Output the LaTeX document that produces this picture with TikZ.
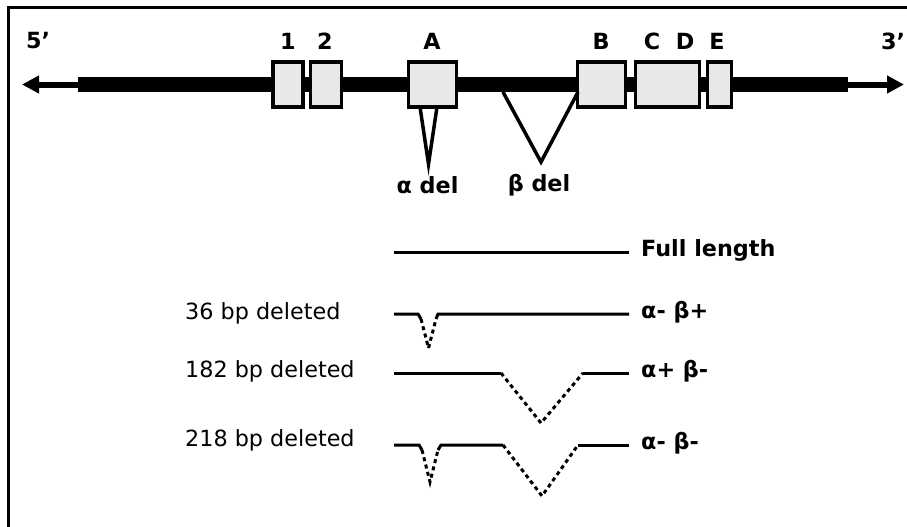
\documentclass[tikz,border=0pt]{standalone}
\usepackage{fontspec}
\setmainfont{DejaVu Sans}
\usetikzlibrary{arrows.meta}
\tikzset{
  exon/.style={draw=black, line width=3.5pt, fill=exgray, inner sep=0pt, minimum height=45pt},
  lab/.style={font=\fontsize{22.3}{24}\selectfont\bfseries, inner sep=0pt},
  side/.style={font=\fontsize{22.3}{24}\selectfont, inner sep=0pt, anchor=west},
  tline/.style={line width=3pt},
  dline/.style={line width=3pt, dash pattern=on 4pt off 3.5pt},
  del/.style={line width=3.5pt, line join=miter},
}
\definecolor{exgray}{HTML}{E8E8E8}
\begin{document}
\begin{tikzpicture}[x=1pt,y=-1pt]
\useasboundingbox (0,0) rectangle (907,527);
% frame (only left and top visible)
\draw[line width=2.5pt] (8.5,527) -- (8.5,7.5) -- (907,7.5);
% gene body
\coordinate (barL) at (78,84.5);
\coordinate (barR) at (848,84.5);
\coordinate (tipL) at (22,84.5);
\coordinate (tipR) at (904,84.5);
\draw[line width=15pt] (barL) -- (barR);
\draw[line width=6pt, -{Triangle[length=17pt,width=17pt]}] (barL) -- (tipL);
\draw[line width=6pt, -{Triangle[length=17pt,width=17pt]}] (barR) -- (tipR);
% exons
\node[exon, minimum width=30pt] (e1) at (288,84.5) {};
\node[exon, minimum width=31pt] (e2) at (326,84.5) {};
\node[exon, minimum width=48pt] (eA) at (432.5,84.5) {};
\node[exon, minimum width=48pt] (eB) at (601.5,84.5) {};
\node[exon, minimum width=64pt] (eCD) at (667.5,84.5) {};
\node[exon, minimum width=24pt] (eE) at (719.5,84.5) {};
% exon labels
\node[lab] (l5) at (38,41) {5’};
\node[lab] (l1) at (288,41) {1};
\node[lab] (l2) at (325,41) {2};
\node[lab] (lA) at (432,41) {A};
\node[lab] (lB) at (601,41) {B};
\node[lab] (lC) at (652,41) {C};
\node[lab] (lD) at (685,41) {D};
\node[lab] (lE) at (717,41) {E};
\node[lab] (l3) at (893,41) {3’};
% deletions
\coordinate (a1) at (420,107);
\coordinate (a2) at (437,107);
\coordinate (aP) at (428.5,164);
\draw[del] (a1) -- (aP) -- (a2);
\coordinate (b1) at (503,92);
\coordinate (b2) at (578,92);
\coordinate (bP) at (541,162);
\draw[del] (b1) -- (bP) -- (b2);
\node[lab] (adel) at (427.5,185) {α del};
\node[lab] (bdel) at (539,185) {β del};
% transcripts
\coordinate (fL) at (394,252);
\coordinate (fR) at (629,252);
\draw[tline] (fL) -- (fR);
\node[lab, anchor=west] (full) at (641,250) {Full length};
% alpha- beta+
\coordinate (t1a) at (394,314);
\coordinate (t1b) at (418,314);
\coordinate (t1c) at (421,319);
\coordinate (t1d) at (428.5,348);
\coordinate (t1e) at (436,319);
\coordinate (t1f) at (438,314);
\coordinate (t1g) at (629,314);
\draw[tline] (t1a) -- (t1b) -- (t1c);
\draw[dline] (t1c) -- (t1d) -- (t1e);
\draw[tline] (t1e) -- (t1f) -- (t1g);
\node[lab, anchor=west] (r1) at (641,312) {α- β+};
% alpha+ beta-
\coordinate (t2a) at (394,373);
\coordinate (t2b) at (501,373);
\coordinate (t2c) at (541,423);
\coordinate (t2d) at (583,373);
\coordinate (t2e) at (629,373);
\draw[tline] (t2a) -- (t2b);
\draw[dline] (t2b) -- (t2c) -- (t2d);
\draw[tline] (t2d) -- (t2e);
\node[lab, anchor=west] (r2) at (641,371) {α+ β-};
% alpha- beta-
\coordinate (t3a) at (394,445);
\coordinate (t3b) at (419,445);
\coordinate (t3c) at (422,450);
\coordinate (t3d) at (430,482);
\coordinate (t3e) at (438,450);
\coordinate (t3f) at (441,445);
\coordinate (t3g) at (503,445);
\coordinate (t3h) at (542,496);
\coordinate (t3i) at (578,445);
\coordinate (t3j) at (629,445);
\draw[tline] (t3a) -- (t3b) -- (t3c);
\draw[dline] (t3c) -- (t3d) -- (t3e);
\draw[tline] (t3e) -- (t3f) -- (t3g);
\draw[dline] (t3g) -- (t3h) -- (t3i);
\draw[tline] (t3i) -- (t3j);
\node[lab, anchor=west] (r3) at (641,443) {α- β-};
% left labels
\node[side] (s1) at (185,313) {36 bp deleted};
\node[side] (s2) at (185,371) {182 bp deleted};
\node[side] (s3) at (185,440) {218 bp deleted};
\end{tikzpicture}
\end{document}
